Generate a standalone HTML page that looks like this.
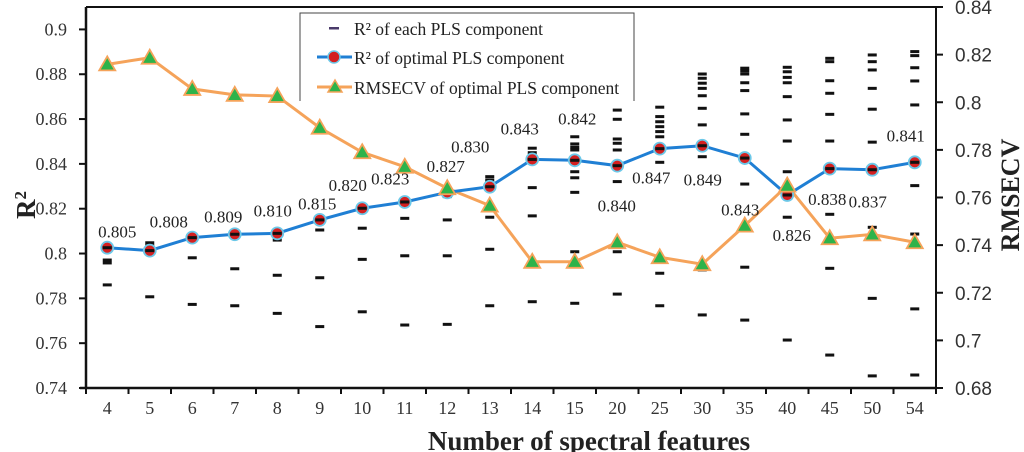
<!DOCTYPE html>
<html><head><meta charset="utf-8"><style>
html,body{margin:0;padding:0;background:#fff;}
svg{display:block;font-family:"Liberation Serif",serif;}
</style></head><body>
<svg id="chart" width="1024" height="452" viewBox="0 0 1024 452" xmlns="http://www.w3.org/2000/svg" font-family="Liberation Serif, serif">
</svg>
<script>
const categories = ["4","5","6","7","8","9","10","11","12","13","14","15","20","25","30","35","40","45","50","54"];
const r2Optimal = [0.8026,0.8013,0.8071,0.8086,0.8090,0.8150,0.8202,0.8230,0.8273,0.8298,0.8420,0.8416,0.8392,0.8468,0.8481,0.8426,0.8261,0.8379,0.8374,0.8407];
const rmsecv = [0.8159,0.8187,0.8056,0.8031,0.8026,0.7893,0.7790,0.7729,0.7639,0.7566,0.7330,0.7330,0.7412,0.7349,0.7320,0.7482,0.7650,0.7429,0.7445,0.7412];
const labelText = ["0.805","0.808","0.809","0.810","0.815","0.820","0.823","0.827","0.830","0.843","0.842","0.840","0.847","0.849","0.843","0.826","0.838","0.837","","0.841"];
const r2Each = [
[0.8025,0.7971,0.7958,0.7860],
[0.8048,0.8035,0.8013,0.7807],
[0.8071,0.7981,0.7773],
[0.8090,0.7932,0.7767],
[0.8095,0.8060,0.7903,0.7733],
[0.8162,0.8150,0.8105,0.7892,0.7674],
[0.8209,0.8197,0.8113,0.7974,0.7740],
[0.8243,0.8229,0.8157,0.7990,0.7681],
[0.8273,0.8254,0.8150,0.7990,0.7684],
[0.8343,0.8328,0.8316,0.8298,0.8162,0.8019,0.7767],
[0.8470,0.8450,0.8420,0.8294,0.8168,0.7785],
[0.8521,0.8489,0.8474,0.8462,0.8416,0.8365,0.8338,0.8273,0.8008,0.7778],
[0.8640,0.8599,0.8511,0.8492,0.8462,0.8392,0.8321,0.8008,0.7819],
[0.8653,0.8611,0.8588,0.8566,0.8544,0.8521,0.8468,0.8407,0.7912,0.7767],
[0.8801,0.8782,0.8760,0.8737,0.8704,0.8648,0.8574,0.8481,0.8432,0.7927,0.7726],
[0.8827,0.8815,0.8801,0.8762,0.8727,0.8623,0.8532,0.8426,0.8310,0.7939,0.7703],
[0.8831,0.8811,0.8786,0.8762,0.8700,0.8596,0.8502,0.8365,0.8261,0.8162,0.7614],
[0.8871,0.8856,0.8771,0.8715,0.8621,0.8502,0.8379,0.8175,0.7934,0.7547],
[0.8886,0.8856,0.8819,0.8737,0.8644,0.8497,0.8374,0.8117,0.7800,0.7454],
[0.8901,0.8883,0.8829,0.8770,0.8663,0.8407,0.8303,0.8087,0.7753,0.7458]
];
const leftTicks = [0.74,0.76,0.78,0.80,0.82,0.84,0.86,0.88,0.90];
const leftTickLabels = ["0.74","0.76","0.78","0.8","0.82","0.84","0.86","0.88","0.9"];
const rightTicks = [0.68,0.70,0.72,0.74,0.76,0.78,0.80,0.82,0.84];
const rightTickLabels = ["0.68","0.7","0.72","0.74","0.76","0.78","0.8","0.82","0.84"];
// label placement offsets relative to the point (layout, not data)
const labelDx = [10,19,31,38,40,28,28,41,23,30,45,42,34,43,38,47,40,38,0,-9];
const labelDy = [-10,-23,-15,-18,-24,-29,-24,-30,-40,-52,-35,51,18,37,70,83,10,39,0,-21];

const NS="http://www.w3.org/2000/svg";
const svg=document.getElementById('chart');
const X0=86,X1=936,Y0=388,Y1=7;
const band=(X1-X0)/categories.length;
function xS(i){return X0+band*(i+0.5);}
function yL(v){return Y0-(v-0.74)/(0.91-0.74)*(Y0-Y1);}
function yR(v){return Y0-(v-0.68)/(0.84-0.68)*(Y0-Y1);}
function mk(tag,attrs,parent){const e=document.createElementNS(NS,tag);for(const k in attrs)e.setAttribute(k,attrs[k]);(parent||svg).appendChild(e);return e;}

const dashes=mk('g',{});


r2Each.forEach((arr,i)=>arr.forEach(v=>{
  const d=mk('rect',{x:xS(i)-4.5,y:yL(v)-1.5,width:9,height:3,fill:'#111'},dashes);
  
  
}));

const op=mk('polyline',{points:rmsecv.map((v,i)=>xS(i)+','+yR(v)).join(' '),fill:'none',stroke:'#f5a35a','stroke-width':3});


const bp=mk('polyline',{points:r2Optimal.map((v,i)=>xS(i)+','+yL(v)).join(' '),fill:'none',stroke:'#1f7fd4','stroke-width':3});


r2Optimal.forEach((v,i)=>{
  const c=mk('circle',{cx:xS(i),cy:yL(v),r:6,fill:'#d42020',stroke:'#6cc8e8','stroke-width':1.8});
  
  
  const d=mk('rect',{x:xS(i)-4.5,y:yL(v)-1.5,width:9,height:3,fill:'#111'});
  
  
});
rmsecv.forEach((v,i)=>{
  const x=xS(i),y=yR(v);
  const t=mk('polygon',{points:`${x},${y-8} ${x-8},${y+6} ${x+8},${y+6}`,fill:'#2db34a',stroke:'#f5a35a','stroke-width':1.8});
  
  
});
labelText.forEach((s,i)=>{
  if(!s)return;
  const t=mk('text',{x:xS(i)+labelDx[i],y:yL(r2Optimal[i])+labelDy[i],'text-anchor':'middle','font-size':17,fill:'#222'});
  t.textContent=s;
  
  
});

const lg=mk('g',{});


mk('rect',{x:300,y:13,width:334,height:88,fill:'#fff'},lg);
mk('path',{d:'M300,101 V13 H634 V101',fill:'none',stroke:'#444','stroke-width':1},lg);
const le1=mk('rect',{x:329,y:27,width:10,height:2.5,fill:'#4a3a6a'},lg);

mk('line',{x1:317,y1:57,x2:352,y2:57,stroke:'#1f7fd4','stroke-width':3},lg);
mk('circle',{cx:334,cy:57,r:6,fill:'#d42020',stroke:'#6cc8e8','stroke-width':1.5},lg);
mk('line',{x1:317,y1:87,x2:352,y2:87,stroke:'#f5a35a','stroke-width':3},lg);
mk('polygon',{points:'335,80 328,92 342,92',fill:'#2db34a',stroke:'#f5a35a','stroke-width':1.5},lg);
[['R² of each PLS component',35],['R² of optimal PLS component',64],['RMSECV of optimal PLS component',94]].forEach(([s,y])=>{
  const t=mk('text',{x:354,y:y,'font-size':17.5,fill:'#222'},lg);t.textContent=s;
  
  
});

const ax=mk('g',{stroke:'#111'});


mk('line',{x1:X0,y1:Y1,x2:X1,y2:Y1,'stroke-width':2},ax);
mk('line',{x1:X0,y1:Y1,x2:X0,y2:Y0+1,'stroke-width':2.5},ax);
mk('line',{x1:X1,y1:Y1,x2:X1,y2:Y0+1,'stroke-width':2},ax);
mk('line',{x1:X0-6,y1:Y0,x2:X1,y2:Y0,'stroke-width':2.5},ax);
for(let i=0;i<=categories.length;i++)mk('line',{x1:X0+band*i,y1:Y0,x2:X0+band*i,y2:Y0+6,'stroke-width':2},ax);
leftTicks.forEach((v,i)=>{
  mk('line',{x1:X0-7,y1:yL(v),x2:X0,y2:yL(v),'stroke-width':2},ax);
  const t=mk('text',{x:67,y:yL(v)+6,'text-anchor':'end','font-size':18,fill:'#333',stroke:'none'});
  t.textContent=leftTickLabels[i];
  
  
});
rightTicks.forEach((v,i)=>{
  mk('line',{x1:X1,y1:yR(v),x2:X1+7,y2:yR(v),'stroke-width':2},ax);
  const t=mk('text',{x:955,y:yR(v)+7,'text-anchor':'start','font-size':19,fill:'#333',stroke:'none','font-family':'"Liberation Sans",sans-serif'});
  t.textContent=rightTickLabels[i];
  
  
});
categories.forEach((c,i)=>{
  const t=mk('text',{x:xS(i),y:414,'text-anchor':'middle','font-size':18,fill:'#333'});
  t.textContent=c;
  
  
});
const xt=mk('text',{x:589,y:450,'text-anchor':'middle','font-size':27,'font-weight':'bold',fill:'#222'});
xt.textContent='Number of spectral features';

const yt=mk('text',{x:0,y:0,'text-anchor':'middle','font-size':27,'font-weight':'bold',fill:'#222',transform:'translate(35,205) rotate(-90)'});
yt.innerHTML='R<tspan dy="-9" font-size="17">2</tspan>';

const rt=mk('text',{x:0,y:0,'text-anchor':'middle','font-size':26,'font-weight':'bold',fill:'#222',transform:'translate(1019,195) rotate(-90)'});
rt.textContent='RMSECV';

</script>
</body></html>
